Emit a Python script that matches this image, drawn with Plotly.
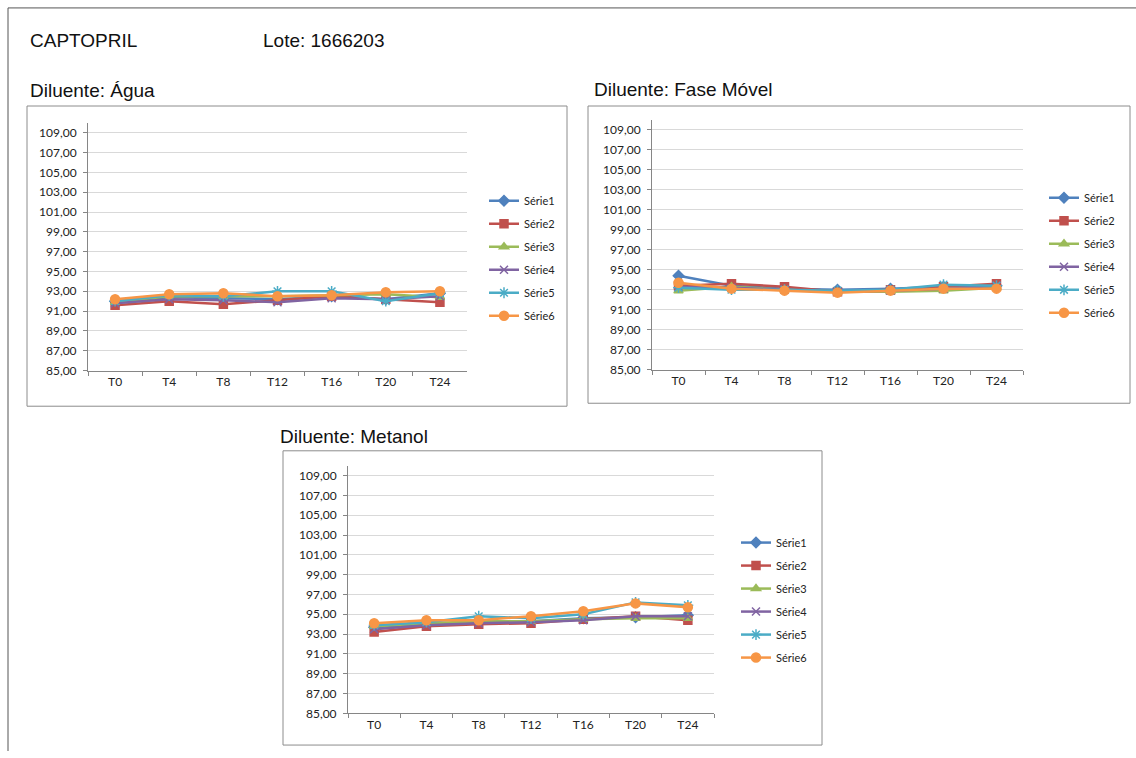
import plotly.graph_objects as go

W, H = 1136, 758

categories = ["T0", "T4", "T8", "T12", "T16", "T20", "T24"]
series_names = ["Série1", "Série2", "Série3", "Série4", "Série5", "Série6"]
y_ticks = list(range(85, 110, 2))

# Diluente: Água
agua_s1 = [92.0, 92.4, 92.3, 92.2, 92.5, 92.2, 92.8]
agua_s2 = [91.6, 92.0, 91.7, 92.1, 92.5, 92.2, 91.9]
agua_s3 = [91.9, 92.5, 92.5, 92.5, 92.6, 92.7, 92.4]
agua_s4 = [91.8, 92.2, 92.1, 91.9, 92.3, 92.2, 92.5]
agua_s5 = [92.0, 92.6, 92.5, 93.0, 93.0, 92.0, 92.8]
agua_s6 = [92.2, 92.7, 92.8, 92.5, 92.6, 92.9, 93.0]

# Diluente: Fase Móvel
fase_s1 = [94.4, 93.4, 93.1, 93.0, 93.1, 93.3, 93.4]
fase_s2 = [93.4, 93.6, 93.3, 92.8, 93.0, 93.3, 93.6]
fase_s3 = [92.9, 93.3, 93.0, 92.8, 92.8, 92.9, 93.2]
fase_s4 = [93.3, 93.2, 93.0, 92.8, 92.9, 93.1, 93.4]
fase_s5 = [93.2, 93.0, 93.0, 92.9, 93.0, 93.5, 93.4]
fase_s6 = [93.7, 93.1, 92.9, 92.7, 92.9, 93.1, 93.1]

# Diluente: Metanol
metanol_s1 = [93.7, 94.0, 94.2, 94.3, 94.6, 94.7, 94.9]
metanol_s2 = [93.2, 93.8, 94.0, 94.1, 94.5, 94.8, 94.4]
metanol_s3 = [93.8, 94.1, 94.3, 94.3, 94.5, 94.6, 94.6]
metanol_s4 = [93.5, 93.9, 94.1, 94.2, 94.4, 94.8, 94.8]
metanol_s5 = [93.9, 94.2, 94.8, 94.6, 95.0, 96.2, 95.9]
metanol_s6 = [94.1, 94.4, 94.4, 94.8, 95.3, 96.1, 95.7]

colors = ["#4F81BD", "#C0504D", "#9BBB59", "#8064A2", "#4BACC6", "#F79646"]
symbols = ["diamond", "square", "triangle-up", "x-thin-open", "asterisk-open", "circle"]
msizes = [8, 8, 8, 8, 9, 9]

charts = [
    dict(values=[agua_s1, agua_s2, agua_s3, agua_s4, agua_s5, agua_s6],
         x0=88, x1=467, ytop=124, ybot=374, legend="legend",
         lx=484, ly=188, frame=(27, 107, 567, 410),
         title="Diluente: Água", tx=28, ty=91),
    dict(values=[fase_s1, fase_s2, fase_s3, fase_s4, fase_s5, fase_s6],
         x0=652, x1=1023, ytop=121, ybot=373, legend="legend2",
         lx=1044, ly=185, frame=(588, 107, 1130, 407),
         title="Diluente: Fase Móvel", tx=592, ty=90),
    dict(values=[metanol_s1, metanol_s2, metanol_s3, metanol_s4, metanol_s5, metanol_s6],
         x0=348, x1=714, ytop=470, ybot=720, legend="legend3",
         lx=736, ly=533, frame=(283, 455, 822, 752),
         title="Diluente: Metanol", tx=278, ty=441),
]

tick_font = dict(family="Lato, Carlito, sans-serif", size=12, color="#222222")
title_font = dict(family="Liberation Sans, Arial, sans-serif", size=19, color="#111111")

fig = go.Figure()
layout = dict(
    width=W, height=H, margin=dict(l=0, r=0, t=0, b=0),
    paper_bgcolor="white", plot_bgcolor="white",
    separators=",.", showlegend=True,
)
shapes = []
annotations = []

def px(x):
    return x / W

def py(y):
    return 1 - y / H

for i, c in enumerate(charts):
    n = "" if i == 0 else str(i + 1)
    xa, ya = "xaxis" + n, "yaxis" + n
    for k, vals in enumerate(c["values"]):
        fig.add_trace(go.Scatter(
            x=categories, y=vals, name=series_names[k],
            xaxis="x" + n, yaxis="y" + n,
            mode="lines+markers",
            line=dict(color=colors[k], width=2.5),
            marker=dict(symbol=symbols[k], size=msizes[k], color=colors[k],
                        line=dict(color=colors[k], width=1.5)),
            legend=c["legend"], legendgroup=f"{c['legend']}_{k}",
        ))
    layout[xa] = dict(
        domain=[px(c["x0"]), px(c["x1"])], anchor="y" + n,
        type="category", categoryorder="array", categoryarray=categories,
        range=[-0.5, 6.5], showgrid=False, zeroline=False,
        showline=True, linecolor="#868686", linewidth=1,
        ticks="outside", tickson="boundaries", ticklen=4, tickcolor="#868686",
        tickfont=tick_font, fixedrange=True,
    )
    layout[ya] = dict(
        domain=[py(c["ybot"]), py(c["ytop"])], anchor="x" + n,
        range=[85, 110], tickvals=y_ticks, tickformat=".2f",
        showgrid=True, gridcolor="#D9D9D9", gridwidth=1, zeroline=False,
        showline=True, linecolor="#868686", linewidth=1,
        ticks="outside", ticklen=4, tickcolor="#868686",
        tickfont=tick_font, ticklabelstandoff=4, fixedrange=True,
    )
    layout[c["legend"]] = dict(
        x=px(c["lx"]), y=py(c["ly"]), xanchor="left", yanchor="top",
        xref="paper", yref="paper",
        font=dict(family="Lato, Carlito, sans-serif", size=11, color="#222222"),
        bgcolor="rgba(0,0,0,0)", borderwidth=0, tracegroupgap=4,
        itemwidth=30,
    )
    fx0, fy0, fx1, fy1 = c["frame"]
    shapes.append(dict(type="rect", xref="paper", yref="paper",
                       x0=px(fx0), x1=px(fx1), y0=py(fy1), y1=py(fy0),
                       line=dict(color="#8C8C8C", width=1), layer="below"))
    annotations.append(dict(text=c["title"], x=px(c["tx"]), y=py(c["ty"]),
                            xref="paper", yref="paper", xanchor="left",
                            yanchor="middle", showarrow=False, font=title_font))

# page heading
annotations.append(dict(text="CAPTOPRIL", x=px(28), y=py(41), xref="paper", yref="paper",
                        xanchor="left", yanchor="middle", showarrow=False, font=title_font))
annotations.append(dict(text="Lote: 1666203", x=px(261), y=py(41), xref="paper", yref="paper",
                        xanchor="left", yanchor="middle", showarrow=False, font=title_font))

# page border
shapes.append(dict(type="line", xref="paper", yref="paper", x0=px(8), x1=1, y0=py(8), y1=py(8),
                   line=dict(color="#555555", width=1)))
shapes.append(dict(type="line", xref="paper", yref="paper", x0=px(8), x1=px(8), y0=0, y1=py(8),
                   line=dict(color="#555555", width=1)))

layout["shapes"] = shapes
layout["annotations"] = annotations
fig.update_layout(**layout)

fig.write_html("out.html", config={"displayModeBar": False})
